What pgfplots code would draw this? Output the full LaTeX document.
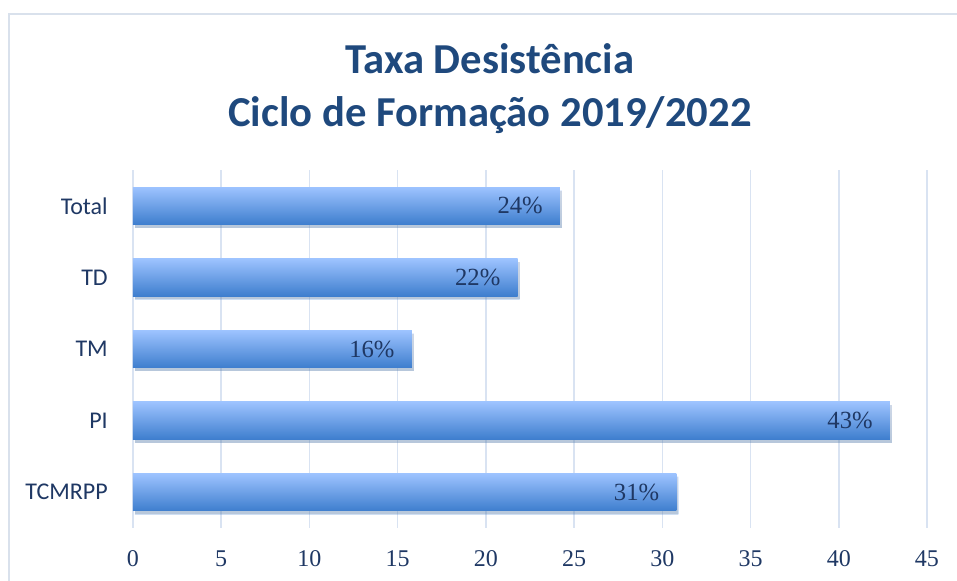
\documentclass[border=0pt]{standalone}
\usepackage{pgfplots}
\pgfplotsset{compat=1.18}
\usepackage{fontspec}
\setmainfont{Carlito}
\newfontfamily\numfont{Liberation Serif}
\usetikzlibrary{shadows}
\definecolor{titleblue}{RGB}{31,73,125}
\definecolor{labblue}{RGB}{31,56,100}
\definecolor{gridc}{RGB}{217,227,242}
\definecolor{bartop}{RGB}{157,195,255}
\definecolor{barbot}{RGB}{62,126,206}
\definecolor{framec}{RGB}{217,225,236}
\pgfplotsset{gbar/.style={xbar, bar width=0.52, bar shift=0pt, draw=none,
  top color=bartop, bottom color=barbot,
  drop shadow={opacity=0.25, shadow xshift=1.5pt, shadow yshift=-2.5pt}}}
\begin{document}
\begin{tikzpicture}
\path[use as bounding box] (-99.75pt,-39.75pt) rectangle (618pt,396pt);
\draw[framec, line width=1.5pt] (-93pt,-41pt) -- (-93pt,385.5pt) -- (620pt,385.5pt);
\begin{axis}[
  at={(0,0)}, anchor=south west,
  width=595.5pt, height=268.5pt, scale only axis,
  xmin=0, xmax=45, ymin=-0.5, ymax=4.5,
  xtick={0,5,...,45}, ytick={0,1,2,3,4},
  yticklabels={TCMRPP,PI,TM,TD,Total},
  xmajorgrids, grid style={gridc, line width=1.2pt},
  axis line style={draw=none}, major tick length=0pt,
  /pgf/number format/assume math mode=true,
  xticklabel style={font=\numfont\fontsize{18}{20}\selectfont, text=labblue, anchor=base, yshift=-29.25pt},
  yticklabel style={font=\fontsize{18}{20}\selectfont, text=labblue, anchor=east, inner sep=0pt, xshift=-18.75pt},
  clip=false,
]
\addplot[gbar] coordinates {(30.8,0)};
\addplot[gbar] coordinates {(42.9,1)};
\addplot[gbar] coordinates {(15.8,2)};
\addplot[gbar] coordinates {(21.8,3)};
\addplot[gbar] coordinates {(24.2,4)};
\addplot[xbar, bar width=0.52, bar shift=0pt, draw=none, fill=none,
  point meta=x,
  nodes near coords={\pgfmathprintnumber[fixed,precision=0]{\pgfplotspointmeta}\%},
  nodes near coords style={anchor=east, inner sep=0pt, xshift=-12.75pt, text=labblue, font=\numfont\fontsize{18.5}{20}\selectfont}]
  table[x=v, y=p] {
v p
30.8 0
42.9 1
15.8 2
21.8 3
24.2 4
};
\end{axis}
\node[anchor=base, font=\bfseries\fontsize{32}{36}\selectfont, text=titleblue] at (267.75pt,340.5pt) {Taxa Desistência};
\node[anchor=base, font=\bfseries\fontsize{32}{36}\selectfont, text=titleblue] at (267.75pt,300.75pt) {Ciclo de Formação 2019/2022};
\end{tikzpicture}
\end{document}
